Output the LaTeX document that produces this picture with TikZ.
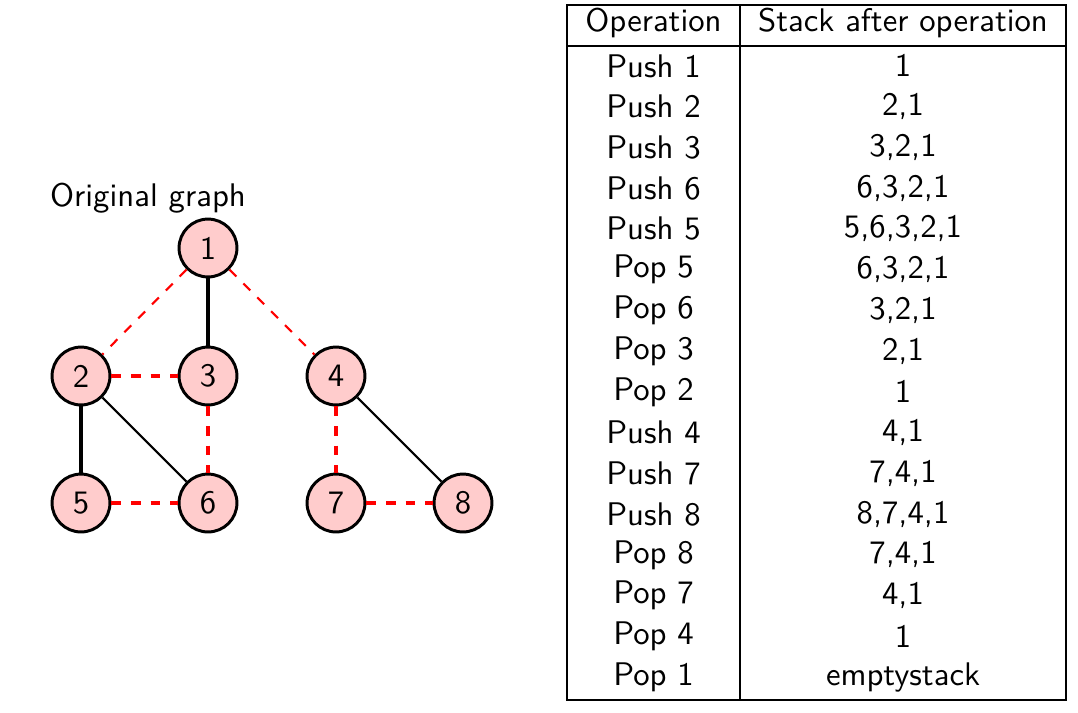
\documentclass[tikz,border=0pt]{standalone}
\renewcommand{\familydefault}{\sfdefault}
\begin{document}
\begin{tikzpicture}[x=0.3058pt,y=-0.3058pt,
  vtx/.style={circle,draw=black,line width=0.9pt,fill=red!20,minimum size=17.7pt,inner sep=0pt,font=\sffamily},
  tree/.style={draw=black},
  back/.style={draw=red,dashed},
  thin1/.style={line width=0.65pt},
  mid1/.style={line width=0.95pt},
  heavy1/.style={line width=1.35pt},
  cell/.style={font=\sffamily,inner sep=0pt,anchor=center}]
\useasboundingbox (0,0) rectangle (1078,712);
% graph
\node[font=\sffamily] (title) at (148,198) {Original graph};
\node[vtx] (n1) at (208,248) {1};
\node[vtx] (n2) at (81,376) {2};
\node[vtx] (n3) at (208,376) {3};
\node[vtx] (n4) at (336,376) {4};
\node[vtx] (n5) at (81,503) {5};
\node[vtx] (n6) at (208,503) {6};
\node[vtx] (n7) at (336,503) {7};
\node[vtx] (n8) at (463,503) {8};
\draw[back,thin1] (n1) -- (n2);
\draw[tree,mid1] (n1) -- (n3);
\draw[back,thin1] (n1) -- (n4);
\draw[back,mid1] (n2) -- (n3);
\draw[tree,heavy1] (n2) -- (n5);
\draw[tree,thin1] (n2) -- (n6);
\draw[back,mid1] (n3) -- (n6);
\draw[back,mid1] (n4) -- (n7);
\draw[tree,thin1] (n4) -- (n8);
\draw[back,heavy1] (n5) -- (n6);
\draw[back,heavy1] (n7) -- (n8);
% table
\draw[semithick] (567,5) rectangle (1066,700);
\draw[semithick] (740,5) -- (740,700);
\draw[semithick] (567,46) -- (1066,46);
\node[cell] (h1) at (653.5,23) {Operation};
\node[cell] (h2) at (903,23) {Stack after operation};
\foreach \i/\op/\st in {1/Push 1/1, 2/Push 2/{2,1}, 3/Push 3/{3,2,1}, 4/Push 6/{6,3,2,1},
  5/Push 5/{5,6,3,2,1}, 6/Pop 5/{6,3,2,1}, 7/Pop 6/{3,2,1}, 8/Pop 3/{2,1}, 9/Pop 2/1,
  10/Push 4/{4,1}, 11/Push 7/{7,4,1}, 12/Push 8/{8,7,4,1}, 13/Pop 8/{7,4,1}, 14/Pop 7/{4,1},
  15/Pop 4/1, 16/Pop 1/emptystack} {
  \node[cell] (op\i) at (653.5,{45.5+40.75*(\i-0.5)}) {\op};
  \node[cell] (st\i) at (903,{45.5+40.75*(\i-0.5)}) {\st};
}
\end{tikzpicture}
\end{document}
